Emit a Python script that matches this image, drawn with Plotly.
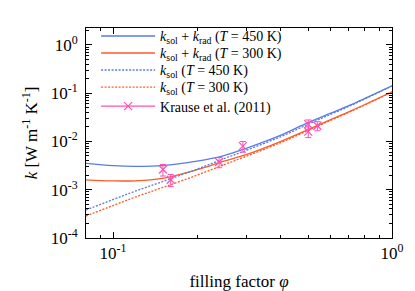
import plotly.graph_objects as go

phi = [0.08, 0.1, 0.12, 0.15, 0.2, 0.25, 0.3, 0.4, 0.5, 0.6, 0.7, 0.8, 1.0]
k_tot_450 = [3.5e-3, 3.15e-3, 3.05e-3, 3.15e-3, 3.9e-3, 5.1e-3, 7.2e-3, 1.35e-2, 2.45e-2, 3.8e-2, 5.5e-2, 7.8e-2, 0.142]
k_tot_300 = [1.6e-3, 1.52e-3, 1.53e-3, 1.72e-3, 2.6e-3, 3.9e-3, 5.3e-3, 1.0e-2, 1.75e-2, 2.8e-2, 4.1e-2, 5.8e-2, 0.106]
k_sol_450 = [3.8e-4, 6.25e-4, 9.3e-4, 1.46e-3, 2.66e-3, 4.4e-3, 6.5e-3, 1.26e-2, 2.25e-2, 3.6e-2, 5.3e-2, 7.6e-2, 0.14]
k_sol_300 = [2.85e-4, 4.7e-4, 7.0e-4, 1.1e-3, 2.0e-3, 3.3e-3, 4.9e-3, 9.5e-3, 1.68e-2, 2.7e-2, 4.0e-2, 5.7e-2, 0.105]

krause_phi = [0.151, 0.161, 0.240, 0.292, 0.501, 0.501, 0.540]
krause_k = [2.62e-3, 1.61e-3, 3.75e-3, 7.97e-3, 2.28e-2, 1.60e-2, 2.11e-2]
krause_err = [0.7e-3, 0.45e-3, 0.9e-3, 2.0e-3, 5.0e-3, 4.0e-3, 4.5e-3]

BLUE = "#5a7ae6"
ORANGE = "#ff5a28"
MAGENTA = "#ff50b4"
FONT = "Times New Roman"

fig = go.Figure()
fig.add_trace(go.Scatter(x=phi, y=k_tot_450, mode="lines", line=dict(color=BLUE, width=1.3, shape="spline"),
                         legend="legend",
                         name="<i>k</i><sub>sol</sub> + <i>k</i><sub>rad</sub> (<i>T</i> = 450 K)"))
fig.add_trace(go.Scatter(x=phi, y=k_tot_300, mode="lines", line=dict(color=ORANGE, width=1.3, shape="spline"),
                         legend="legend2",
                         name="<i>k</i><sub>sol</sub> + <i>k</i><sub>rad</sub> (<i>T</i> = 300 K)"))
fig.add_trace(go.Scatter(x=phi, y=k_sol_450, mode="lines", line=dict(color=BLUE, width=1.3, dash="2px,1.5px", shape="spline"),
                         legend="legend3",
                         name="<i>k</i><sub>sol</sub> (<i>T</i> = 450 K)"))
fig.add_trace(go.Scatter(x=phi, y=k_sol_300, mode="lines", line=dict(color=ORANGE, width=1.3, dash="2px,1.5px", shape="spline"),
                         legend="legend4",
                         name="<i>k</i><sub>sol</sub> (<i>T</i> = 300 K)"))
fig.add_trace(go.Scatter(x=krause_phi, y=krause_k, mode="markers", showlegend=False,
                         marker=dict(symbol="x-thin", size=8, line=dict(color=MAGENTA, width=1.2), color=MAGENTA),
                         error_y=dict(type="data", array=krause_err, visible=True, color=MAGENTA, thickness=1, width=3)))
fig.add_trace(go.Scatter(x=[None], y=[None], mode="lines+markers", name="Krause et al. (2011)",
                         legend="legend5",
                         line=dict(color=MAGENTA, width=1.2),
                         marker=dict(symbol="x-thin", size=8, line=dict(color=MAGENTA, width=1.2), color=MAGENTA)))

xt = [0.1, 1.0]
xt_text = ["10<sup>-1</sup>", "10<sup>0</sup>"]
x_minor = [0.08, 0.09, 0.2, 0.3, 0.4, 0.5, 0.6, 0.7, 0.8, 0.9]
yt = [1e-4, 1e-3, 1e-2, 1e-1, 1.0]
yt_text = ["10<sup>-4</sup>", "10<sup>-3</sup>", "10<sup>-2</sup>", "10<sup>-1</sup>", "10<sup>0</sup>"]
y_minor = [m * 10.0 ** e for e in range(-4, 1) for m in range(2, 10) if m * 10.0 ** e < 2.2]

axis_common = dict(type="log", showline=True, linecolor="black", linewidth=1, mirror="allticks",
                   ticks="inside", ticklen=6, tickcolor="black", showgrid=False, zeroline=False,
                   tickfont=dict(family=FONT, size=17, color="black"))

fig.update_xaxes(range=[-1.0969, 0.0], tickmode="array", tickvals=xt, ticktext=xt_text,
                 minor=dict(tickmode="array", tickvals=x_minor, ticks="inside", ticklen=3, tickcolor="black"),
                 title=dict(text="filling factor <i>φ</i>", font=dict(family=FONT, size=17, color="black"), standoff=12),
                 **axis_common)
fig.update_yaxes(range=[-4, 0.348], tickmode="array", tickvals=yt, ticktext=yt_text,
                 minor=dict(tickmode="array", tickvals=y_minor, ticks="inside", ticklen=3, tickcolor="black"),
                 ticklabelstandoff=4,
                 title=dict(text="<i>k</i> [W m<sup>-1</sup> K<sup>-1</sup>]", font=dict(family=FONT, size=17, color="black"), standoff=8),
                 **axis_common)

legend_rows = [0.960, 0.879, 0.798, 0.717, 0.626]
legend_names = ["legend", "legend2", "legend3", "legend4", "legend5"]
leg_layout = {}
for nm, yy in zip(legend_names, legend_rows):
    leg_layout[nm] = dict(x=0.033, y=yy, xanchor="left", yanchor="middle", bgcolor="rgba(0,0,0,0)",
                          font=dict(family=FONT, size=14, color="black"), itemwidth=54)

fig.update_layout(width=415, height=291, margin=dict(l=78, r=31, t=16, b=59),
                  paper_bgcolor="white", plot_bgcolor="white",
                  font=dict(family=FONT, size=15, color="black"),
                  **leg_layout)

fig.write_html("out.html")
